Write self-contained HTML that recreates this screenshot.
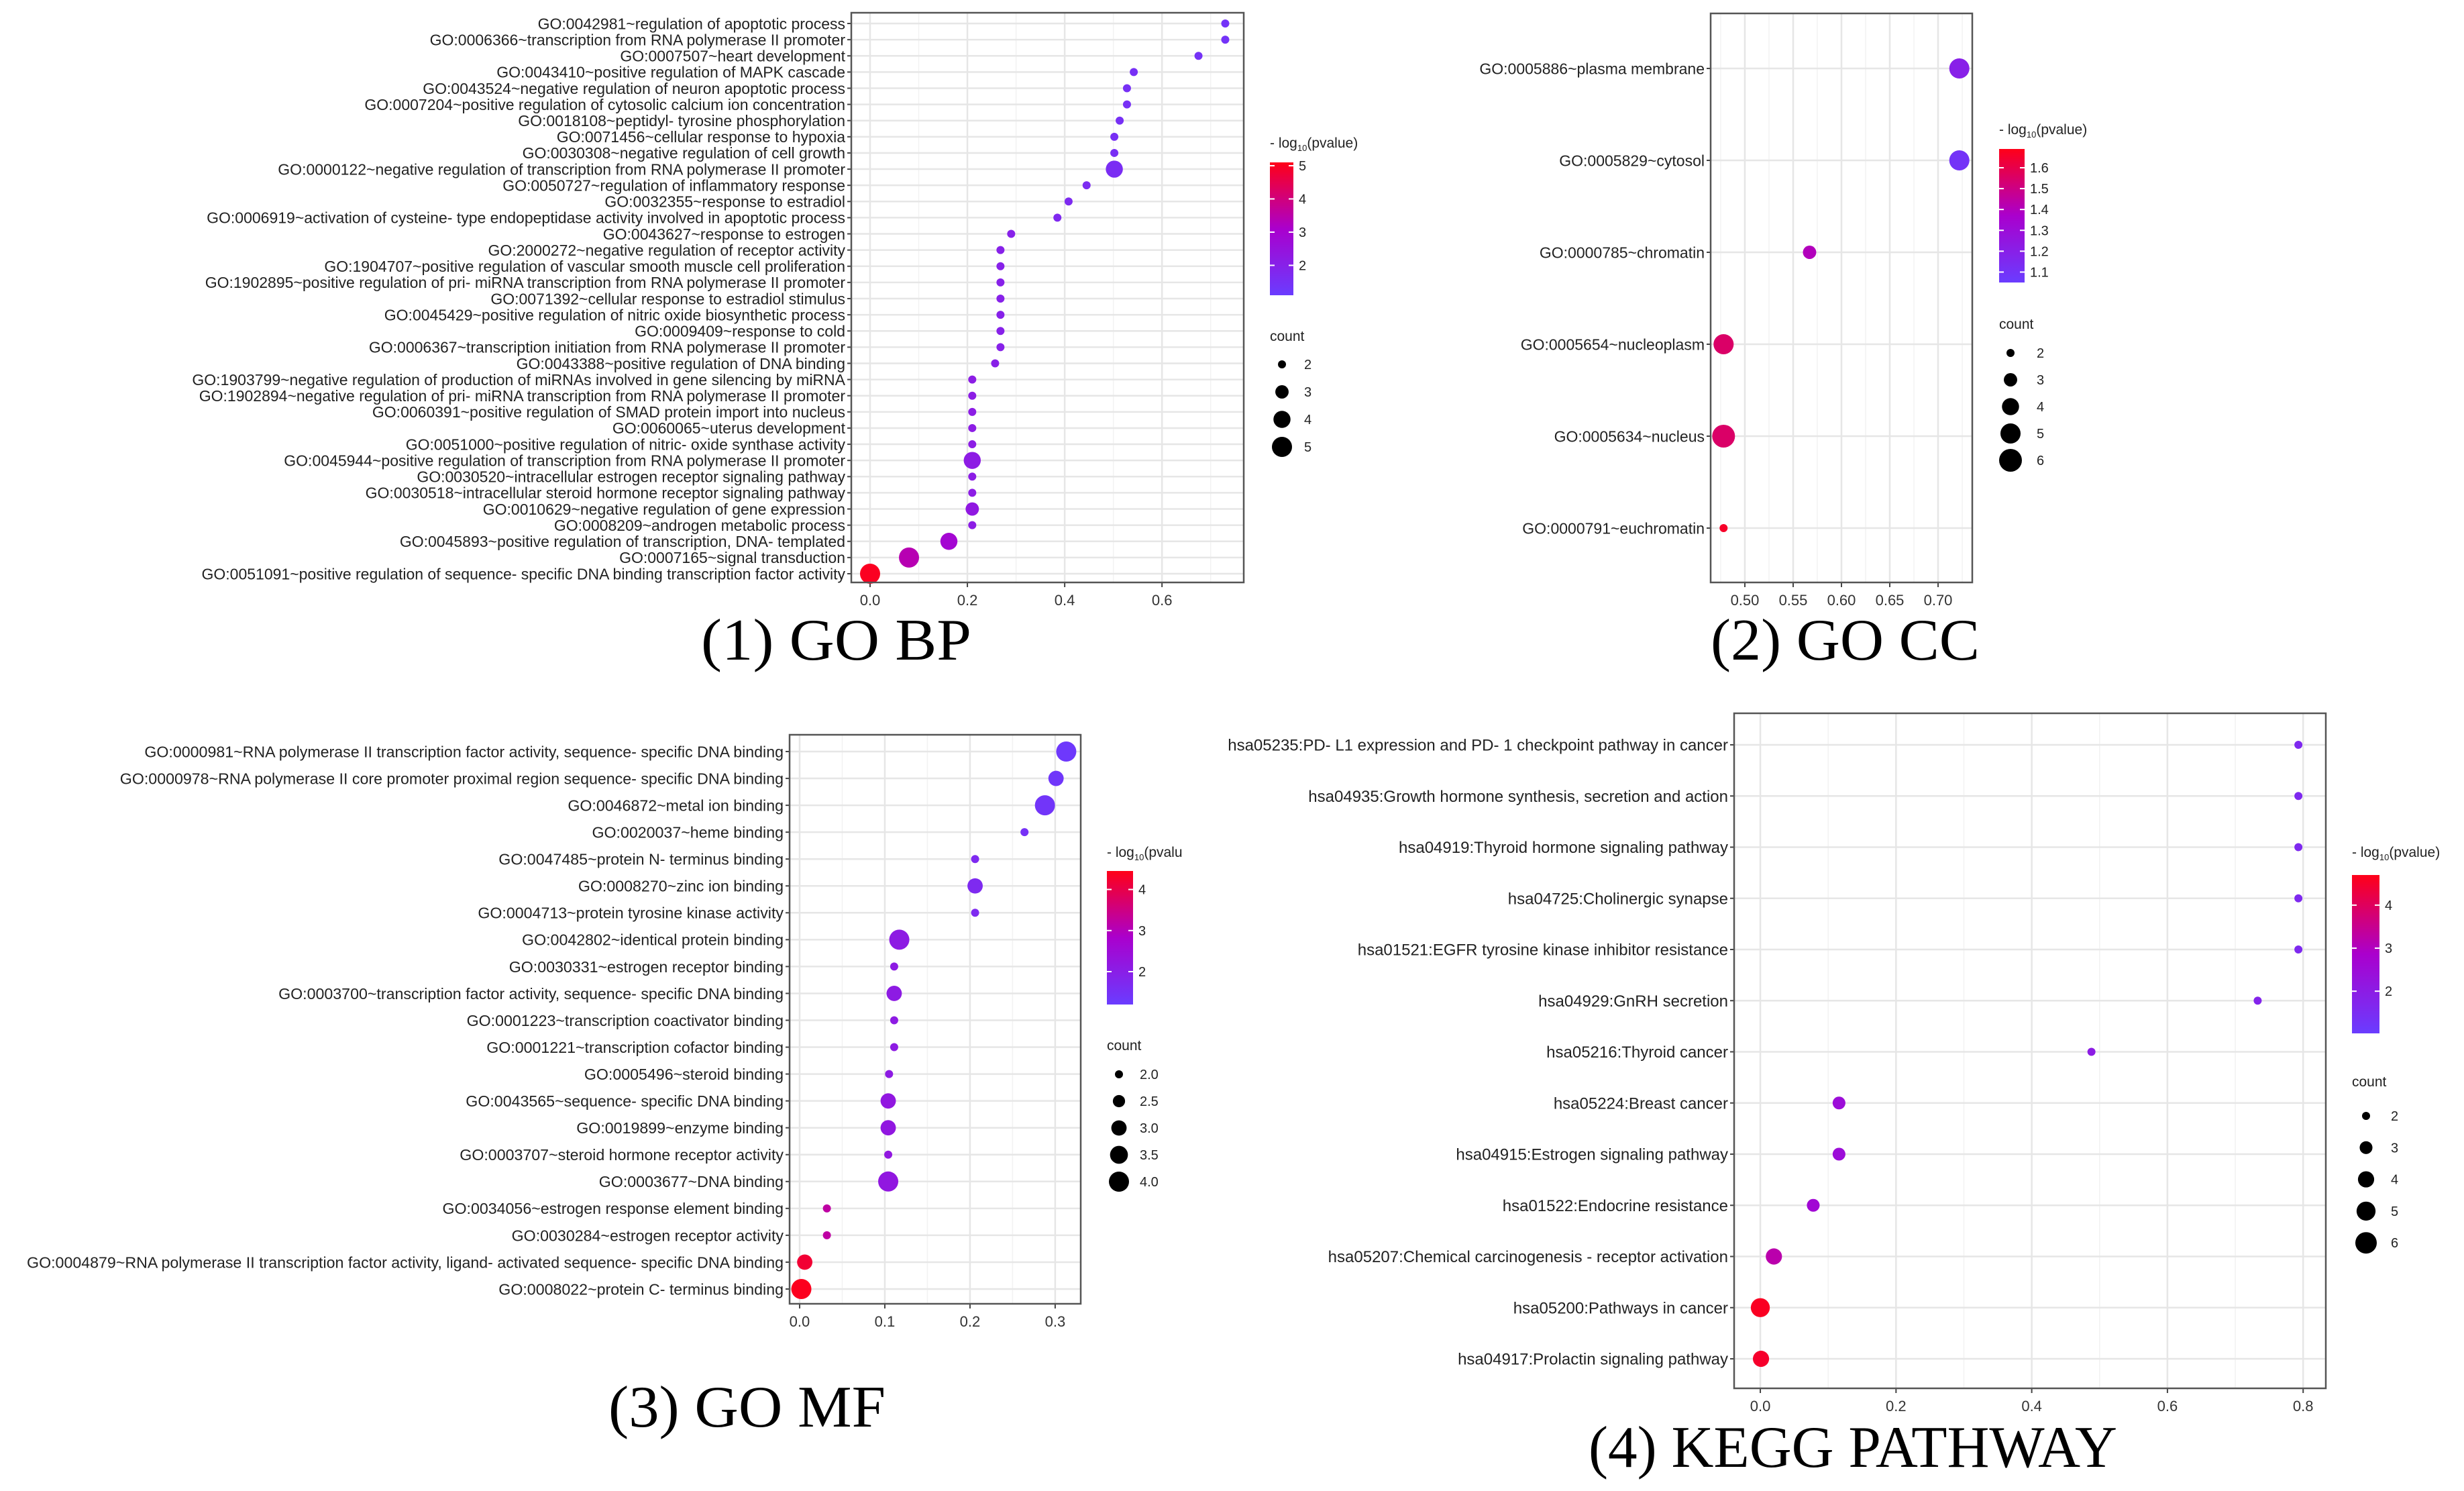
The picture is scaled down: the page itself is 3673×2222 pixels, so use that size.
<!DOCTYPE html>
<html><head><meta charset="utf-8">
<style>
html,body{margin:0;padding:0;background:#fff;}
svg{display:block;}
text{font-family:"Liberation Sans",sans-serif;}
</style></head>
<body>
<svg id="root" width="3673" height="2222" viewBox="0 0 3673 2222"></svg>
<script>
// ---------- DATA ----------
const bpTerms = ["GO:0042981~regulation of apoptotic process","GO:0006366~transcription from RNA polymerase II promoter","GO:0007507~heart development","GO:0043410~positive regulation of MAPK cascade","GO:0043524~negative regulation of neuron apoptotic process","GO:0007204~positive regulation of cytosolic calcium ion concentration","GO:0018108~peptidyl- tyrosine phosphorylation","GO:0071456~cellular response to hypoxia","GO:0030308~negative regulation of cell growth","GO:0000122~negative regulation of transcription from RNA polymerase II promoter","GO:0050727~regulation of inflammatory response","GO:0032355~response to estradiol","GO:0006919~activation of cysteine- type endopeptidase activity involved in apoptotic process","GO:0043627~response to estrogen","GO:2000272~negative regulation of receptor activity","GO:1904707~positive regulation of vascular smooth muscle cell proliferation","GO:1902895~positive regulation of pri- miRNA transcription from RNA polymerase II promoter","GO:0071392~cellular response to estradiol stimulus","GO:0045429~positive regulation of nitric oxide biosynthetic process","GO:0009409~response to cold","GO:0006367~transcription initiation from RNA polymerase II promoter","GO:0043388~positive regulation of DNA binding","GO:1903799~negative regulation of production of miRNAs involved in gene silencing by miRNA","GO:1902894~negative regulation of pri- miRNA transcription from RNA polymerase II promoter","GO:0060391~positive regulation of SMAD protein import into nucleus","GO:0060065~uterus development","GO:0051000~positive regulation of nitric- oxide synthase activity","GO:0045944~positive regulation of transcription from RNA polymerase II promoter","GO:0030520~intracellular estrogen receptor signaling pathway","GO:0030518~intracellular steroid hormone receptor signaling pathway","GO:0010629~negative regulation of gene expression","GO:0008209~androgen metabolic process","GO:0045893~positive regulation of transcription, DNA- templated","GO:0007165~signal transduction","GO:0051091~positive regulation of sequence- specific DNA binding transcription factor activity"];
const bpX = [0.730,0.730,0.675,0.542,0.528,0.528,0.513,0.502,0.502,0.502,0.445,0.408,0.385,0.290,0.268,0.268,0.268,0.268,0.268,0.268,0.268,0.257,0.210,0.210,0.210,0.210,0.210,0.210,0.210,0.210,0.210,0.210,0.162,0.080,0.000];
const bpCount = [2,2,2,2,2,2,2,2,2,4,2,2,2,2,2,2,2,2,2,2,2,2,2,2,2,2,2,4,2,2,3,2,4,5,5];
const bpLogP = [1.4,1.4,1.45,1.5,1.5,1.5,1.5,1.55,1.55,1.6,1.65,1.7,1.75,2.0,2.0,2.0,2.0,2.0,2.0,2.0,2.0,2.05,2.15,2.15,2.15,2.15,2.15,2.2,2.15,2.15,2.3,2.15,2.9,3.4,5.0];

const ccTerms = ["GO:0005886~plasma membrane","GO:0005829~cytosol","GO:0000785~chromatin","GO:0005654~nucleoplasm","GO:0005634~nucleus","GO:0000791~euchromatin"];
const ccX = [0.722,0.722,0.567,0.478,0.478,0.478];
const ccCount = [5,5,3,5,6,2];
const ccLogP = [1.2,1.1,1.4,1.55,1.55,1.66];

const mfTerms = ["GO:0000981~RNA polymerase II transcription factor activity, sequence- specific DNA binding","GO:0000978~RNA polymerase II core promoter proximal region sequence- specific DNA binding","GO:0046872~metal ion binding","GO:0020037~heme binding","GO:0047485~protein N- terminus binding","GO:0008270~zinc ion binding","GO:0004713~protein tyrosine kinase activity","GO:0042802~identical protein binding","GO:0030331~estrogen receptor binding","GO:0003700~transcription factor activity, sequence- specific DNA binding","GO:0001223~transcription coactivator binding","GO:0001221~transcription cofactor binding","GO:0005496~steroid binding","GO:0043565~sequence- specific DNA binding","GO:0019899~enzyme binding","GO:0003707~steroid hormone receptor activity","GO:0003677~DNA binding","GO:0034056~estrogen response element binding","GO:0030284~estrogen receptor activity","GO:0004879~RNA polymerase II transcription factor activity, ligand- activated sequence- specific DNA binding","GO:0008022~protein C- terminus binding"];
const mfX = [0.313,0.301,0.288,0.264,0.206,0.206,0.206,0.117,0.111,0.111,0.111,0.111,0.105,0.104,0.104,0.104,0.104,0.032,0.032,0.006,0.002];
const mfCount = [4,3,4,2,2,3,2,4,2,3,2,2,2,3,3,2,4,2,2,3,4];
const mfLogP = [1.3,1.35,1.4,1.5,1.7,1.7,1.7,2.1,2.1,2.1,2.1,2.1,2.1,2.2,2.2,2.2,2.2,3.2,3.2,4.2,4.4];

const kgTerms = ["hsa05235:PD- L1 expression and PD- 1 checkpoint pathway in cancer","hsa04935:Growth hormone synthesis, secretion and action","hsa04919:Thyroid hormone signaling pathway","hsa04725:Cholinergic synapse","hsa01521:EGFR tyrosine kinase inhibitor resistance","hsa04929:GnRH secretion","hsa05216:Thyroid cancer","hsa05224:Breast cancer","hsa04915:Estrogen signaling pathway","hsa01522:Endocrine resistance","hsa05207:Chemical carcinogenesis -  receptor activation","hsa05200:Pathways in cancer","hsa04917:Prolactin signaling pathway"];
const kgX = [0.793,0.793,0.793,0.793,0.793,0.733,0.488,0.116,0.116,0.078,0.020,0.000,0.001];
const kgCount = [2,2,2,2,2,2,2,3,3,3,4,5,4];
const kgLogP = [1.6,1.6,1.6,1.6,1.6,1.75,2.0,2.45,2.45,2.6,3.2,4.6,4.5];

const bpTicks = [0,0.2,0.4,0.6], ccTicks=[0.5,0.55,0.6,0.65,0.7], mfTicks=[0,0.1,0.2,0.3], kgTicks=[0,0.2,0.4,0.6,0.8];
const bpTickLabels=["0.0","0.2","0.4","0.6"], ccTickLabels=["0.50","0.55","0.60","0.65","0.70"], mfTickLabels=["0.0","0.1","0.2","0.3"], kgTickLabels=["0.0","0.2","0.4","0.6","0.8"];
const bpColorTicks=[2,3,4,5], ccColorTicks=[1.1,1.2,1.3,1.4,1.5,1.6], mfColorTicks=[2,3,4], kgColorTicks=[2,3,4];
const bpSizeLegend=["2","3","4","5"], ccSizeLegend=["2","3","4","5","6"], mfSizeLegend=["2.0","2.5","3.0","3.5","4.0"], kgSizeLegend=["2","3","4","5","6"];

// ---------- DRAWING ----------
const NS="http://www.w3.org/2000/svg";
const root=document.getElementById('root');
function mk(tag,attrs,parent){const e=document.createElementNS(NS,tag);for(const k in attrs)e.setAttribute(k,attrs[k]);(parent||root).appendChild(e);return e;}
function lerp(a,b,t){return a+(b-a)*t;}
const stops=[[0,[106,60,255]],[0.5,[170,0,205]],[1,[255,0,24]]];
function ramp(t){t=Math.max(0,Math.min(1,t));let i=t<=0.5?0:1;const a=stops[i],b=stops[i+1];const u=(t-a[0])/(b[0]-a[0]);return 'rgb('+[0,1,2].map(k=>Math.round(lerp(a[1][k],b[1][k],u))).join(',')+')';}

function drawPanel(c){
  const g=mk('g',{});
  
  
  const sx=v=>c.L+(v-c.xmin)/(c.xmax-c.xmin)*(c.R-c.L);
  const n=c.terms.length;
  const sy=i=>c.y0+i*(c.y1-c.y0)/(n-1);
  const col=v=>ramp((v-c.cmin)/(c.cmax-c.cmin));
  const rad=k=>Math.sqrt(c.r0*c.r0+(k-c.k0)/(c.k1-c.k0)*(c.r1*c.r1-c.r0*c.r0));
  mk('rect',{x:c.L,y:c.T,width:c.R-c.L,height:c.B-c.T,fill:'#fff'},g);
  for(let i=0;i<c.ticks.length+1;i++){
    const step=c.ticks[1]-c.ticks[0];const v=c.ticks[0]-step/2+i*step;
    if(v>c.xmin&&v<c.xmax) mk('line',{x1:sx(v),x2:sx(v),y1:c.T,y2:c.B,stroke:'#f2f2f2','stroke-width':1.5},g);
  }
  c.ticks.forEach((v,i)=>{
    const gl=mk('line',{x1:sx(v),x2:sx(v),y1:c.T,y2:c.B,stroke:'#e6e6e6','stroke-width':2.5},g);
    
    
    mk('line',{x1:sx(v),x2:sx(v),y1:c.B,y2:c.B+7,stroke:'#444','stroke-width':2},g);
    const t=mk('text',{x:sx(v),y:c.B+34,'text-anchor':'middle','font-size':c.tfs,fill:'#333'},g);
    t.textContent=c.tickLabels[i];
    
    
  });
  c.terms.forEach((term,i)=>{
    const y=sy(i);
    mk('line',{x1:c.L,x2:c.R,y1:y,y2:y,stroke:'#e6e6e6','stroke-width':2.5},g);
    mk('line',{x1:c.L-6,x2:c.L,y1:y,y2:y,stroke:'#444','stroke-width':2},g);
    const t=mk('text',{x:c.L-9,y:y+c.fs*0.36,'text-anchor':'end','font-size':c.fs,fill:'#222'},g);
    t.textContent=term;
    
    
  });
  c.terms.forEach((term,i)=>{
    const p=mk('circle',{cx:sx(c.x[i]),cy:sy(i),r:rad(c.count[i]),fill:col(c.logp[i])},g);
    
    
  });
  mk('rect',{x:c.L,y:c.T,width:c.R-c.L,height:c.B-c.T,fill:'none',stroke:'#555','stroke-width':2.5},g);
  const lg=mk('g',{},g);
  
  
  const lt=mk('text',{x:c.lx,y:c.ltY,'font-size':21,fill:'#222'},lg);
  lt.innerHTML='- log<tspan font-size="13" dy="5">10</tspan><tspan dy="-5">'+c.ltitle+'</tspan>';
  const gid='grad'+c.name;
  const defs=mk('defs',{},lg);const lgd=mk('linearGradient',{id:gid,x1:0,y1:1,x2:0,y2:0},defs);
  for(let s=0;s<=10;s++) mk('stop',{offset:s/10,'stop-color':ramp(s/10)},lgd);
  mk('rect',{x:c.lx,y:c.cbT,width:c.cbW,height:c.cbB-c.cbT,fill:'url(#'+gid+')'},lg);
  const cy=v=>c.cbB-(v-c.cmin)/(c.cmax-c.cmin)*(c.cbB-c.cbT);
  c.cticks.forEach(v=>{
    mk('line',{x1:c.lx,x2:c.lx+7,y1:cy(v),y2:cy(v),stroke:'#fff','stroke-width':2},lg);
    mk('line',{x1:c.lx+c.cbW-7,x2:c.lx+c.cbW,y1:cy(v),y2:cy(v),stroke:'#fff','stroke-width':2},lg);
    const t=mk('text',{x:c.lx+c.cbW+8,y:cy(v)+7,'font-size':20,fill:'#222'},lg);
    t.textContent=(c.cticks[0]%1!==0)?v.toFixed(1):String(v);
  });
  const sg=mk('g',{},g);
  
  
  const st=mk('text',{x:c.lx,y:c.stY,'font-size':21,fill:'#222'},sg);st.textContent='count';
  c.sizeLabels.forEach((lab,i)=>{
    const y=c.sy0+i*c.sdy;
    mk('circle',{cx:c.sdx,cy:y,r:rad(parseFloat(lab)),fill:'#000'},sg);
    const t=mk('text',{x:c.slx,y:y+7,'font-size':20,fill:'#222'},sg);t.textContent=lab;
  });
  const tt=mk('text',{x:c.tx,y:c.ty,'font-size':88,'textLength':c.tl,'lengthAdjust':'spacingAndGlyphs',fill:'#000'},g);
  tt.setAttribute('style','font-family:"Liberation Serif",serif');
  tt.textContent=c.title;
  
  
}

drawPanel({name:'go-bp-panel',terms:bpTerms,x:bpX,count:bpCount,logp:bpLogP,ticks:bpTicks,tickLabels:bpTickLabels,
 L:1269,R:1854,T:19,B:868,xmin:-0.0386,xmax:0.768,y0:35,y1:855,fs:23,tfs:22,
 cmin:1.1,cmax:5.1,k0:2,k1:5,r0:6,r1:15,
 lx:1893,ltY:220,ltitle:'(pvalue)',cbT:242,cbB:440,cbW:35,cticks:bpColorTicks,
 stY:508,sizeLabels:bpSizeLegend,sy0:543,sdy:41,sdx:1911,slx:1944,
 title:'(1)  GO BP',tx:1045,ty:983,tl:403});
drawPanel({name:'go-cc-panel',terms:ccTerms,x:ccX,count:ccCount,logp:ccLogP,ticks:ccTicks,tickLabels:ccTickLabels,
 L:2550,R:2940,T:20,B:868,xmin:0.4646,xmax:0.7354,y0:102,y1:787,fs:23,tfs:22,
 cmin:1.05,cmax:1.69,k0:2,k1:6,r0:6,r1:17,
 lx:2980,ltY:200,ltitle:'(pvalue)',cbT:222,cbB:421,cbW:38,cticks:ccColorTicks,
 stY:490,sizeLabels:ccSizeLegend,sy0:526,sdy:40,sdx:2997,slx:3036,
 title:'(2)  GO CC',tx:2550,ty:983,tl:401});
drawPanel({name:'go-mf-panel',terms:mfTerms,x:mfX,count:mfCount,logp:mfLogP,ticks:mfTicks,tickLabels:mfTickLabels,
 L:1177,R:1611,T:1095,B:1943,xmin:-0.0118,xmax:0.33,y0:1120,y1:1921,fs:23.2,tfs:22,
 cmin:1.2,cmax:4.45,k0:2,k1:4,r0:6,r1:15,
 lx:1650,ltY:1277,ltitle:'(pvalu',cbT:1298,cbB:1497,cbW:39,cticks:mfColorTicks,
 stY:1565,sizeLabels:mfSizeLegend,sy0:1601,sdy:40,sdx:1668,slx:1699,
 title:'(3)  GO MF',tx:907,ty:2126,tl:413});
drawPanel({name:'kegg-panel',terms:kgTerms,x:kgX,count:kgCount,logp:kgLogP,ticks:kgTicks,tickLabels:kgTickLabels,
 L:2585,R:3467,T:1063,B:2069,xmin:-0.0386,xmax:0.8334,y0:1110,y1:2025,fs:24,tfs:22,
 cmin:1.02,cmax:4.7,k0:2,k1:6,r0:6,r1:16,
 lx:3506,ltY:1277,ltitle:'(pvalue)',cbT:1304,cbB:1540,cbW:41,cticks:kgColorTicks,
 stY:1619,sizeLabels:kgSizeLegend,sy0:1663,sdy:47.3,sdx:3527,slx:3564,
 title:'(4)  KEGG PATHWAY',tx:2368,ty:2186,tl:788});
</script>
</body></html>
